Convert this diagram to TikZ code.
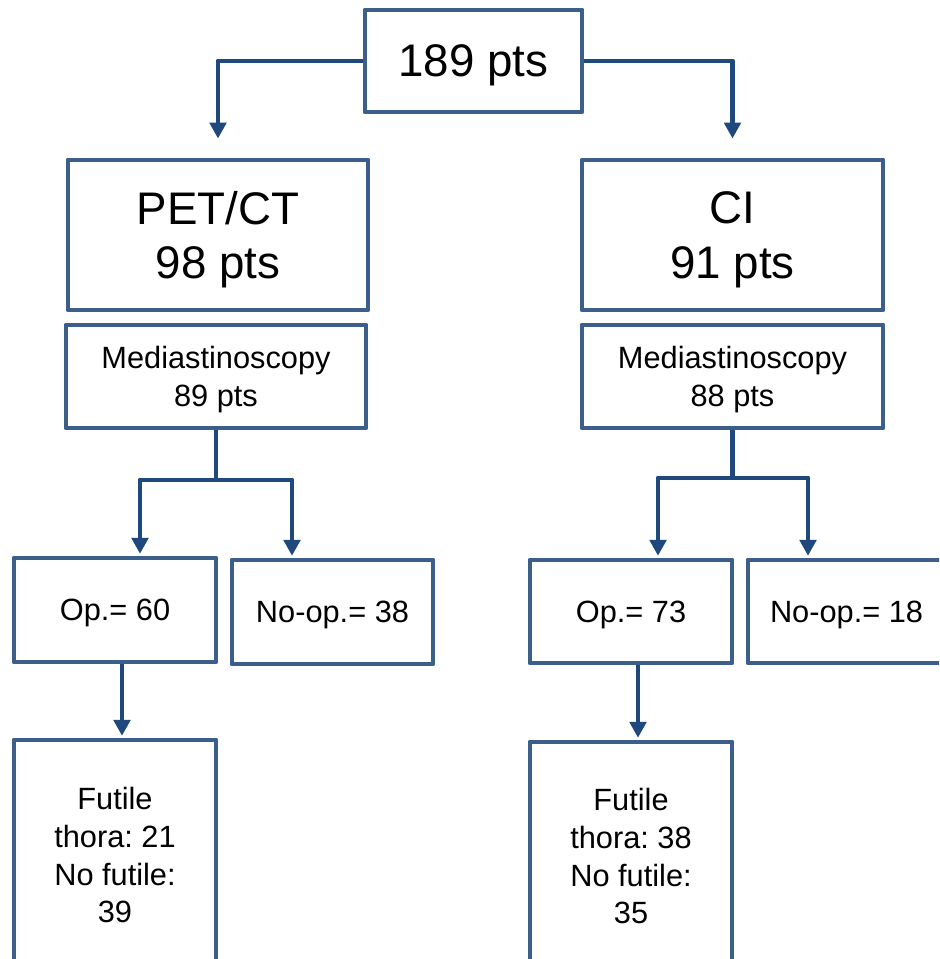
\documentclass[tikz,border=0pt]{standalone}
\usepackage{fontspec}
\setmainfont{Liberation Sans}
\usepackage{tikz}
\usetikzlibrary{arrows.meta}
\definecolor{boxblue}{RGB}{59,94,139}
\definecolor{arrowblue}{RGB}{31,73,125}
\frenchspacing

\begin{document}
\begin{tikzpicture}[->,>={Triangle[width=0.33cm,length=0.32cm]},shorten >=1pt,line join=round]
                  \tikzstyle{bigbox}=[draw=boxblue,fill=white,line width=2.8pt,align=center,inner sep=0pt,text depth=0pt,font=\fontsize{26}{31}\selectfont]
                  \tikzstyle{smallbox}=[bigbox,font=\fontsize{17.5}{21.5}\selectfont]
                  \tikzstyle{link}=[draw=arrowblue,line width=2.8pt]

                  \useasboundingbox (0,0) rectangle (18.78,-19.18);
                  \clip (0,0) rectangle (18.78,-19.18);

                  \node[bigbox,minimum width=4.34cm,minimum height=2.04cm] (total) at (9.47,-1.22) {189 pts};
                  \node[bigbox,minimum width=6cm,minimum height=3cm]       (pet)   at (4.36,-4.70)  {PET/CT\\98 pts};
                  \node[bigbox,minimum width=6.02cm,minimum height=3cm]    (ci)    at (14.65,-4.70) {CI\\91 pts};

                  \node[smallbox,minimum width=6cm,minimum height=2.06cm]    (medl) at (4.32,-7.53)  {Mediastinoscopy\\89 pts};
                  \node[smallbox,minimum width=6.02cm,minimum height=2.06cm] (medr) at (14.65,-7.53) {Mediastinoscopy\\88 pts};

                  \node[smallbox,minimum width=4.04cm,minimum height=2.08cm] (opl) at (2.30,-12.20)  {Op.= 60};
                  \node[smallbox,minimum width=4.02cm,minimum height=2.08cm] (nol) at (6.65,-12.24)  {No-op.= 38};
                  \node[smallbox,minimum width=4.04cm,minimum height=2.06cm] (opr) at (12.62,-12.23) {Op.= 73};
                  \node[smallbox,minimum width=3.94cm,minimum height=2.06cm] (nor) at (16.93,-12.23) {No-op.= 18};

                  \node[smallbox,minimum width=4.04cm,minimum height=4.6cm]  (futl) at (2.30,-17.10)  {Futile\\thora: 21\\No futile:\\39};
                  \node[smallbox,minimum width=4.04cm,minimum height=4.56cm] (futr) at (12.62,-17.12) {Futile\\thora: 38\\No futile:\\35};

                  % branch points under the mediastinoscopy boxes
                  \coordinate (al) at (2.8,-9.6);
                  \coordinate (bl) at (5.84,-9.6);
                  \coordinate (ar) at (13.16,-9.56);
                  \coordinate (br) at (16.16,-9.56);

                  \draw[link,shorten >=0.38cm] (total.west) -| (pet.north);
                  \draw[link,shorten >=0.38cm] (total.east) -| (ci.north);

                  \draw[link] (medl.south) |- (al) -- (al |- opl.north);
                  \draw[link] (medl.south) |- (bl) -- (bl |- nol.north);
                  \draw[link] (medr.south) |- (ar) -- (ar |- opr.north);
                  \draw[link] (medr.south) |- (br) -- (br |- nor.north);

                  \draw[link] ([xshift=0.14cm]opl.south) -- ([xshift=0.14cm]futl.north);
                  \draw[link] ([xshift=0.14cm]opr.south) -- ([xshift=0.14cm]futr.north);
                \end{tikzpicture}
\end{document}
